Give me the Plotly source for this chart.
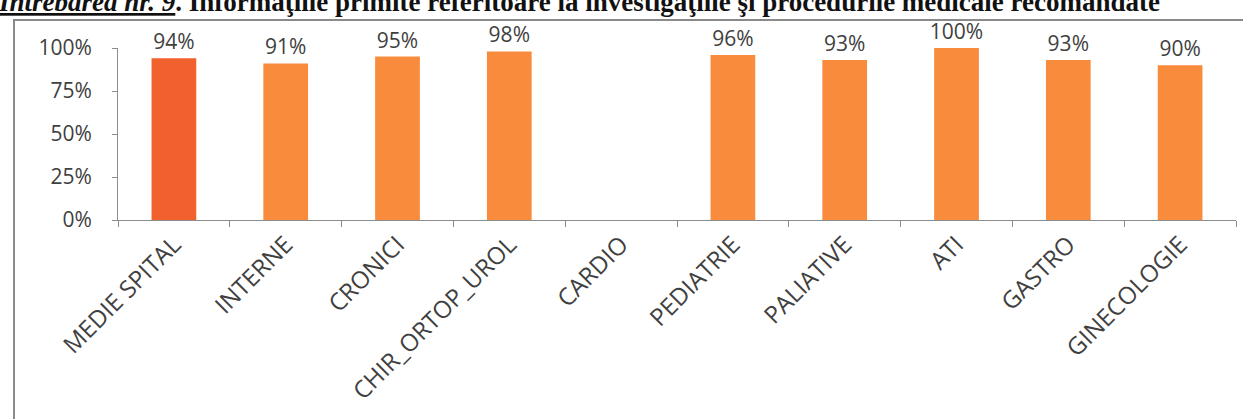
import plotly.graph_objects as go

categories = ["MEDIE SPITAL", "INTERNE", "CRONICI", "CHIR_ORTOP_UROL", "CARDIO",
              "PEDIATRIE", "PALIATIVE", "ATI", "GASTRO", "GINECOLOGIE"]
values = [0.94, 0.91, 0.95, 0.98, None, 0.96, 0.93, 1.00, 0.93, 0.90]
y_ticks = [0, 0.25, 0.5, 0.75, 1.0]
y_tick_labels = ["0%", "25%", "50%", "75%", "100%"]
title_lead = "Întrebarea nr. 9"
title_rest = ". Informaţiile primite referitoare la investigaţiile şi procedurile medicale recomandate"

W, H = 1243, 419
L, R, T, B = 118, 7, 48, 199
pw, ph = W - L - R, H - T - B

def px_x(p):
    return (p - L) / pw

def px_y(p):
    return (H - B - p) / ph

AVG_COLOR = "#F0612E"
DEPT_COLOR = "#F98B3D"
colors = [AVG_COLOR if i == 0 else DEPT_COLOR for i in range(len(categories))]
labels = ["" if v is None else f"{round(v * 100)}%" for v in values]

fig = go.Figure(go.Bar(
    x=categories, y=values, marker=dict(color=colors, line=dict(width=0)),
    text=labels, textposition="outside", cliponaxis=False, constraintext="none",
    textfont=dict(family="Open Sans", size=21, color="#404040"),
    width=0.4,
))

fig.update_layout(
    template="none",
    width=W, height=H,
    margin=dict(l=L, r=R, t=T, b=B, pad=0, autoexpand=False),
    paper_bgcolor="white", plot_bgcolor="white",
    showlegend=False,
    font=dict(family="Open Sans", color="#404040"),
    bargap=0.6,
    xaxis=dict(
        automargin=False,
        showline=True, linecolor="#8C8C8C", linewidth=1,
        ticks="outside", ticklen=6, tickcolor="#8C8C8C", tickson="boundaries",
        tickangle=-45, tickfont=dict(family="Open Sans", size=24, color="#404040"),
        showgrid=False, zeroline=False,
    ),
    yaxis=dict(
        automargin=False,
        range=[0, 1.0], tickvals=y_ticks, ticktext=y_tick_labels,
        showline=True, linecolor="#8C8C8C", linewidth=1,
        ticks="outside", ticklen=5, tickcolor="#8C8C8C",
        tickfont=dict(family="Open Sans", size=21, color="#404040"),
        showgrid=False, zeroline=False, ticklabelstandoff=16,
    ),
    shapes=[dict(
        type="rect", xref="paper", yref="paper",
        x0=px_x(14), x1=px_x(W + 20), y0=px_y(H + 20), y1=px_y(20),
        line=dict(color="#8A8A8A", width=2), fillcolor="rgba(0,0,0,0)", layer="above",
    )],
    annotations=[dict(
        xref="paper", yref="paper", x=px_x(-4), y=px_y(19),
        xanchor="left", yanchor="bottom", showarrow=False,
        text=f"<b><i><u>{title_lead}</u></i>{title_rest}</b>",
        font=dict(family="Liberation Serif", size=27, color="#111111"),
    )],
)

fig.write_html(
    "out.html",
    config={"displayModeBar": False},
    post_script="document.body.style.margin='0';document.body.style.overflow='hidden';",
)
